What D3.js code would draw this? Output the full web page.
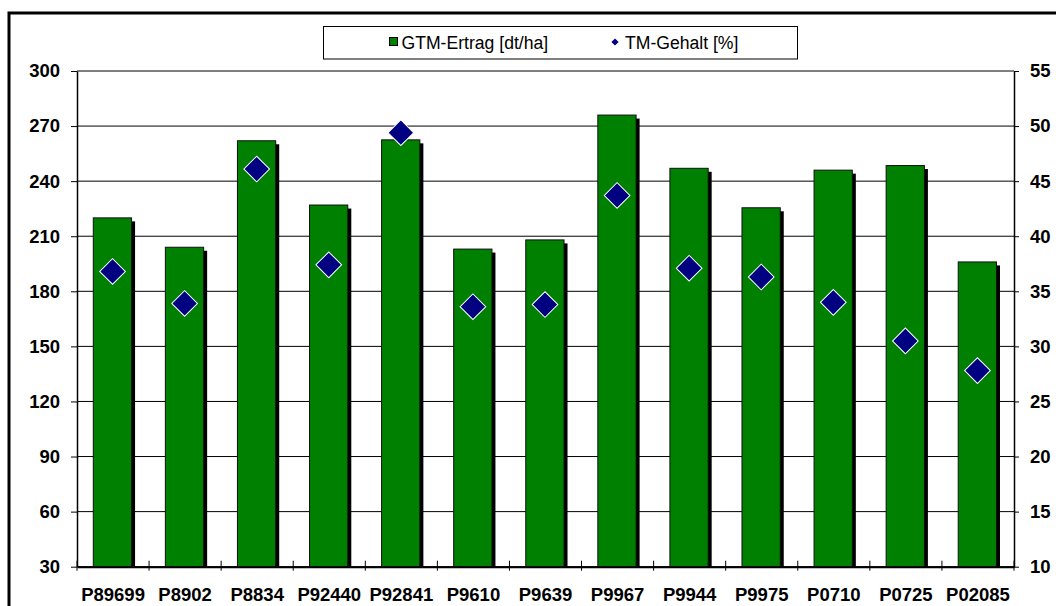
<!DOCTYPE html>
<html>
<head>
<meta charset="utf-8">
<script src="https://cdn.jsdelivr.net/npm/d3@7"></script>
<style>
  html, body { margin: 0; padding: 0; background: #fff; }
  svg { display: block; font-family: "Liberation Sans", Arial, sans-serif; }
</style>
</head>
<body>
<svg id="chart" width="1056" height="606"></svg>
<script>
const categories = ["P89699","P8902","P8834","P92440","P92841","P9610","P9639","P9967","P9944","P9975","P0710","P0725","P02085"];
const gtmErtrag = [220, 204, 262, 227, 262.5, 203, 208, 276, 247, 225.5, 246, 248.5, 196];
const tmGehalt = [36.8, 33.9, 46.1, 37.4, 49.4, 33.6, 33.8, 43.7, 37.1, 36.3, 34.0, 30.5, 27.8];
const leftTicks = [30, 60, 90, 120, 150, 180, 210, 240, 270, 300];
const rightTicks = [10, 15, 20, 25, 30, 35, 40, 45, 50, 55];
const seriesNames = ["GTM-Ertrag [dt/ha]", "TM-Gehalt [%]"];

const svg = d3.select("#chart");
const L = 77, R = 1014, T = 71, B = 566.7;

// outer border
svg.append("rect").attr("x", 9).attr("y", 13).attr("width", 1070).attr("height", 620)
  .attr("fill", "none").attr("stroke", "#000").attr("stroke-width", 3);

const x = d3.scaleBand().domain(categories).range([L, R]).padding(0);
const y = d3.scaleLinear().domain([30, 300]).range([B, T]);
const y2 = d3.scaleLinear().domain([10, 55]).range([B, T]);

svg.append("defs").append("clipPath").attr("id", "plotclip")
  .append("rect").attr("x", L).attr("y", T).attr("width", R - L).attr("height", B - T);

// gridlines
svg.append("g").selectAll("line").data(leftTicks).join("line")
  .attr("x1", L).attr("x2", R).attr("y1", d => y(d)).attr("y2", d => y(d))
  .attr("stroke", "#000").attr("stroke-width", 1);

const step = x.step();
const bw = step * 0.531;
const boff = step * 0.226;

const bars = svg.append("g").attr("clip-path", "url(#plotclip)");
// shadows
bars.selectAll("rect.shadow").data(gtmErtrag).join("rect").attr("class", "shadow")
  .attr("x", (d, i) => x(categories[i]) + boff + 3.5)
  .attr("y", d => y(d) + 3.5)
  .attr("width", bw).attr("height", d => B - y(d))
  .attr("fill", "#000");
// bars
bars.selectAll("rect.bar").data(gtmErtrag).join("rect").attr("class", "bar")
  .attr("x", (d, i) => x(categories[i]) + boff)
  .attr("y", d => y(d))
  .attr("width", bw).attr("height", d => B - y(d))
  .attr("fill", "#008000").attr("stroke", "#111").attr("stroke-width", 1);

const fam = "'Liberation Sans', Arial, sans-serif";

// left axis
const leftAxis = d3.axisLeft(y).tickValues(leftTicks).tickSize(6).tickPadding(11).tickSizeOuter(0);
const gl = svg.append("g").attr("transform", `translate(${L},0)`).call(leftAxis);
gl.select(".domain").attr("stroke", "#000").attr("stroke-width", 1.5);
gl.selectAll(".tick line").attr("stroke", "#000").attr("stroke-width", 1);
gl.selectAll(".tick text").attr("font-size", 18.5).attr("font-weight", "bold")
  .attr("font-family", fam).attr("fill", "#000");

// right axis
const rightAxis = d3.axisRight(y2).tickValues(rightTicks).tickSize(5).tickPadding(11).tickSizeOuter(0);
const gr = svg.append("g").attr("transform", `translate(${R},0)`).call(rightAxis);
gr.select(".domain").attr("stroke", "#000").attr("stroke-width", 1.5);
gr.selectAll(".tick line").attr("stroke", "#000").attr("stroke-width", 1);
gr.selectAll(".tick text").attr("font-size", 18.5).attr("font-weight", "bold")
  .attr("font-family", fam).attr("fill", "#000");

// bottom axis
const bottomAxis = d3.axisBottom(x).tickSize(0).tickPadding(21).tickSizeOuter(0);
const gb = svg.append("g").attr("transform", `translate(0,${B})`).call(bottomAxis);
gb.select(".domain").attr("stroke", "#000").attr("stroke-width", 2);
gb.selectAll(".tick text").attr("font-size", 18.5).attr("font-weight", "bold")
  .attr("font-family", fam).attr("fill", "#000");
// cross tick marks at category boundaries
const bounds = categories.map(c => x(c)).concat([R]);
svg.append("g").selectAll("line").data(bounds).join("line")
  .attr("x1", d => d).attr("x2", d => d).attr("y1", B - 6).attr("y2", B + 4)
  .attr("stroke", "#000").attr("stroke-width", 1);

// diamonds
const diamond = d3.symbol().type(d3.symbolSquare).size(330);
svg.append("g").selectAll("path").data(tmGehalt).join("path")
  .attr("d", diamond)
  .attr("transform", (d, i) => `translate(${x(categories[i]) + step / 2 - 0.5},${y2(d)}) rotate(45)`)
  .attr("fill", "#000080").attr("stroke", "#fff").attr("stroke-width", 1);

// legend
const lg = svg.append("g");
lg.append("rect").attr("x", 323.5).attr("y", 26.5).attr("width", 474).attr("height", 32.5)
  .attr("fill", "#fff").attr("stroke", "#000").attr("stroke-width", 1);
lg.append("rect").attr("x", 389.5).attr("y", 37.5).attr("width", 8).attr("height", 8)
  .attr("fill", "#008000").attr("stroke", "#000").attr("stroke-width", 1);
lg.append("text").attr("x", 401.5).attr("y", 48.5).attr("font-size", 17.6)
  .attr("font-family", fam).text(seriesNames[0]);
lg.append("path").attr("d", d3.symbol().type(d3.symbolSquare).size(26))
  .attr("transform", "translate(615,42) rotate(45)").attr("fill", "#000080");
lg.append("text").attr("x", 625).attr("y", 48.5).attr("font-size", 17.6)
  .attr("font-family", fam).text(seriesNames[1]);
</script>
</body>
</html>
